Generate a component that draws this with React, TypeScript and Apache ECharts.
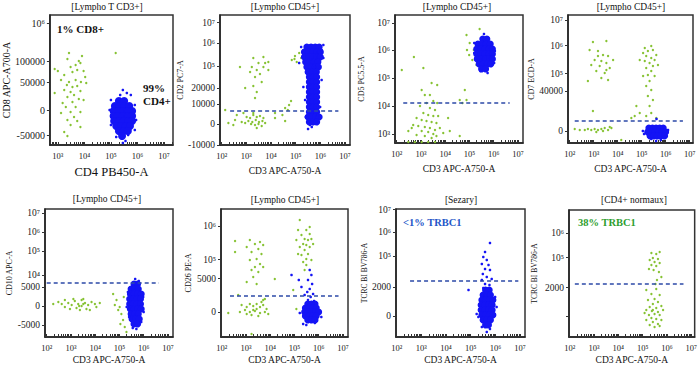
import React, { useEffect, useRef } from "react";
import * as echarts from "echarts";

// ---------- panel texts ----------
const titles = ["[Lympho T CD3+]", "[Lympho CD45+]", "[Lympho CD45+]", "[Lympho CD45+]", "[Lympho CD45+]", "[Lympho CD45+]", "[Sezary]", "[CD4+ normaux]"];
const xNames = ["CD4 PB450-A", "CD3 APC-A750-A", "CD3 APC-A750-A", "CD3 APC-A750-A", "CD3 APC-A750-A", "CD3 APC-A750-A", "CD3 APC-A750-A", "CD3 APC-A750-A"];
const yNames = ["CD8 APC-A700-A", "CD2 PC7-A", "CD5 PC5.5-A", "CD7 ECD-A", "CD10 APC-A", "CD26 PE-A", "TCRC BI BV786-A", "TCRC BI BV786-A"];

// ---------- axes (x: log10 of intensity, y: display channel) ----------
const xDecades = [[3, 4, 5, 6, 7], [2, 3, 4, 5, 6, 7], [2, 3, 4, 5, 6, 7], [2, 3, 4, 5, 6, 7], [2, 3, 4, 5, 6, 7], [2, 3, 4, 5, 6, 7], [2, 3, 4, 5, 6, 7], [2, 3, 4, 5, 6, 7]];
const xRanges = [[2.7, 7.34], [1.93, 7.2], [1.93, 7.21], [1.93, 7.14], [1.93, 7.21], [1.97, 7.21], [1.97, 7.2], [1.97, 7.14]];
const yMax = [130, 130, 128, 128, 128, 128, 128, 127];
const yTickPos = [
  [121.7, 84, 62.7, 35, 9.3],
  [122.3, 101.7, 79, 56.7, 41, 21, 0],
  [120, 92.7, 65, 36.7, 9],
  [122.7, 97.3, 69.3, 51.7, 11.7],
  [124, 105, 86, 61.7, 50, 30.7, 11.7],
  [110.7, 77.3, 58.3, 25],
  [127.3, 105, 80.7, 50, 21],
  [127.3, 104, 79.3, 49.3, 20.7],
];
const yTickLabels = [
  ["10⁶", "100000", "50000", "0", "-50000"],
  ["10⁷", "10⁶", "10⁵", "20000", "10000", "0", "-10000"],
  ["10⁷", "10⁶", "10⁵", "10⁴", "10³"],
  ["10⁷", "10⁶", "10⁵", "40000", "0"],
  ["10⁷", "10⁶", "10⁵", "10⁴", "5000", "0", "-5000"],
  ["10⁶", "10⁵", "5000", "0"],
  ["10⁷", "10⁶", "10⁵", "2000", "0"],
  ["10⁷", "10⁶", "10⁵", "2000", ""],
];

// ---------- gate thresholds ----------
const thresholdY = [null, 34, 40, 22, 54, 41, 56, 53];
const thresholdX = [null, [2.34, 6.73], [2.27, 6.66], [2.21, 6.72], [2.0, 6.63], [2.34, 6.82], [2.54, 6.93], [2.21, 6.68]];

// ---------- events ----------
const p1Green = [[3.42,92],[3.91,89],[3.36,86],[3.79,84],[2.88,76],[3.0,74],[3.48,78],[3.67,80],[3.85,82],[3.97,74],[3.24,70],[3.55,73],[3.73,75],[4.03,68],[3.12,65],[3.42,63],[3.67,65],[3.87,63],[4.07,62],[3.34,60],[3.55,58],[3.73,59],[2.88,52],[3.24,55],[3.48,53],[3.85,54],[3.61,50],[3.36,48],[3.79,46],[3.18,42],[3.55,43],[3.97,45],[3.3,38],[3.67,38],[3.48,33],[3.85,33],[3.12,32],[3.61,28],[3.36,25],[3.73,24],[3.48,20],[3.24,13],[3.85,18],[3.36,9],[5.18,92]];
const p1Core = [[5.3,44],[5.5,44],[5.15,39],[5.33,39],[5.51,39],[5.69,39],[5.1,34],[5.28,34],[5.46,34],[5.64,34],[5.8,34],[5.1,29],[5.28,29],[5.46,29],[5.64,29],[5.8,29],[5.12,24],[5.3,24],[5.48,24],[5.66,24],[5.8,24],[5.2,19],[5.38,19],[5.56,19],[5.72,19],[5.3,14],[5.48,14],[5.64,14],[5.42,9]];
const p1Spread = [[5.0,45],[4.95,35],[5.9,40],[5.95,25],[5.6,52],[5.45,55],[5.35,50],[5.75,50],[5.2,8],[5.55,4],[5.0,20],[5.9,15],[5.45,2],[5.05,28],[5.85,32],[5.65,10]];

const p2Green = [[2.74,78],[3.28,87],[3.69,88],[3.89,83],[3.49,82],[3.22,78],[3.69,78],[3.42,75],[3.89,75],[3.55,71],[3.76,82],[3.15,73],[3.35,68],[3.62,63],[3.28,59],[3.42,53],[3.35,47],[2.95,57],[2.14,35],[3.01,28],[3.15,27],[3.28,30],[3.42,28],[3.55,29],[3.69,27],[3.08,24],[3.24,23],[3.38,25],[3.51,23],[3.65,24],[3.76,22],[3.19,21],[3.35,20],[3.49,21],[3.62,19],[2.95,22],[2.81,23],[3.42,17],[3.28,32],[2.54,25],[2.47,20],[2.27,22],[2.61,30],[2.88,32],[4.16,27],[4.57,24],[4.57,37],[4.73,40],[4.81,44],[4.68,35],[4.46,30],[4.16,32],[4.84,85],[4.97,89],[5.14,92],[5.04,83],[5.22,87],[5.31,95],[5.41,91],[5.49,98],[4.95,86]];
const p2Core = [[5.45,98],[5.62,98],[5.79,98],[5.95,98],[5.35,93],[5.52,93],[5.69,93],[5.86,93],[6.0,93],[5.35,88],[5.52,88],[5.69,88],[5.86,88],[6.0,88],[5.4,83],[5.57,83],[5.74,83],[5.9,83],[5.45,78],[5.62,78],[5.79,78],[5.92,78],[5.5,73],[5.67,73],[5.84,73],[5.55,68],[5.7,68],[5.85,68],[5.55,63],[5.7,63],[5.85,63],[5.55,58],[5.7,58],[5.85,58],[5.55,53],[5.7,53],[5.85,53],[5.55,48],[5.7,48],[5.85,48],[5.55,43],[5.7,43],[5.85,43],[5.55,38],[5.7,38],[5.85,38],[5.55,33],[5.7,33],[5.85,33],[5.5,28],[5.65,28],[5.8,28],[5.95,28],[5.55,23],[5.7,23],[5.85,23]];
const p2Spread = [[5.22,98],[5.14,82],[6.12,100],[6.12,87],[5.31,58],[6.05,65],[5.38,45],[5.99,38],[5.58,20],[5.65,18],[5.89,30],[5.41,28],[5.78,78],[5.5,16],[6.05,95],[5.3,92]];

const p3Green = [[2.21,73],[3.1,75],[2.71,86],[3.44,60],[3.03,53],[3.16,48],[3.37,48],[3.67,58],[3.51,42],[3.23,40],[2.96,37],[3.37,35],[3.58,33],[3.1,30],[3.3,28],[3.51,27],[3.71,27],[2.82,25],[3.03,23],[3.23,22],[3.44,21],[3.64,20],[2.68,18],[2.89,17],[3.16,16],[3.37,15],[3.58,13],[3.78,15],[3.03,12],[3.3,11],[3.51,9],[2.82,8],[3.16,7],[3.44,5],[3.64,7],[2.62,15],[2.48,12],[4.12,25],[4.6,7],[4.19,12],[3.92,10],[4.6,43],[4.81,53],[4.88,43],[4.71,40],[3.67,40],[2.48,1],[2.75,1],[3.03,1],[3.3,1],[3.58,1],[4.88,108],[5.01,100],[5.18,93],[4.99,88],[5.12,83],[5.29,78],[5.42,114],[4.9,93]];
const p3Core = [[5.55,104],[5.72,104],[5.35,99],[5.52,99],[5.69,99],[5.86,99],[5.3,94],[5.47,94],[5.64,94],[5.81,94],[5.95,94],[5.3,89],[5.47,89],[5.64,89],[5.81,89],[5.95,89],[5.32,84],[5.49,84],[5.66,84],[5.83,84],[5.95,84],[5.4,79],[5.57,79],[5.74,79],[5.88,79],[5.5,74],[5.67,74]];
const p3Spread = [[5.2,100],[5.25,84],[6.05,92],[6.02,80],[5.6,109],[5.75,70],[5.45,72],[5.2,90]];

const p4Green = [[2.97,101],[3.53,102],[2.83,93],[3.18,92],[3.39,88],[3.6,87],[3.04,83],[3.32,82],[3.53,80],[2.9,78],[3.25,77],[3.67,75],[3.11,72],[3.46,70],[3.32,65],[3.6,63],[2.76,62],[3.18,87],[3.53,73],[3.81,83],[2.21,14],[2.42,13],[2.63,13],[2.76,14],[2.9,13],[3.04,14],[3.18,13],[3.32,14],[3.46,15],[3.6,13],[3.74,15],[3.11,11],[3.39,12],[3.67,16],[2.97,32],[4.15,3],[5.06,90],[5.26,92],[5.47,93],[5.61,88],[5.19,87],[5.4,85],[5.54,83],[5.13,82],[5.33,80],[5.47,77],[5.19,75],[5.4,72],[5.26,68],[5.54,67],[5.33,62],[5.19,57],[5.4,53],[5.26,47],[5.47,43],[5.33,37],[5.4,30],[5.19,27],[4.92,30],[4.71,27],[4.57,25],[4.78,37],[4.92,83],[5.68,78],[5.13,95],[5.4,97],[5.61,25],[5.06,67]];
const p4Core = [[5.3,15],[5.45,15],[5.6,15],[5.75,15],[5.9,15],[5.25,11],[5.4,11],[5.55,11],[5.7,11],[5.85,11],[6.0,11],[5.35,7],[5.5,7],[5.65,7],[5.8,7],[5.95,7]];
const p4Spread = [[5.05,12],[5.1,9],[6.1,13],[5.6,2],[5.8,3],[5.62,24],[6.05,7],[5.4,4]];

const p5Green = [[2.48,35],[2.62,33],[2.75,37],[2.89,34],[3.03,32],[3.16,36],[3.3,33],[3.44,31],[3.58,34],[3.71,32],[3.85,35],[3.99,33],[3.23,29],[3.44,37],[2.96,28],[3.64,28],[3.1,38],[3.37,27],[2.75,30],[4.05,30],[2.27,33],[4.19,34],[3.51,38],[3.78,27],[3.34,31],[3.51,33],[4.74,43],[4.88,37],[5.01,30],[5.08,23],[5.15,17],[5.22,10],[4.95,27],[4.81,32],[5.29,5],[5.04,13],[5.18,40]];
const p5Core = [[5.6,53],[5.75,53],[5.48,48],[5.63,48],[5.78,48],[5.45,43],[5.6,43],[5.75,43],[5.9,43],[5.42,38],[5.57,38],[5.72,38],[5.87,38],[5.42,33],[5.57,33],[5.72,33],[5.87,33],[5.45,28],[5.6,28],[5.75,28],[5.9,28],[5.48,23],[5.63,23],[5.78,23],[5.52,18],[5.67,18],[5.82,18],[5.6,13],[5.75,13]];
const p5Spread = [[5.65,58],[5.8,56],[5.35,45],[5.3,30],[5.98,40],[6.0,25],[5.7,8],[5.55,9],[5.9,15],[5.4,20]];

const p6Green = [[2.55,96],[3.16,97],[3.58,95],[3.71,92],[3.37,93],[3.03,90],[3.51,88],[3.23,85],[2.55,85],[3.64,83],[3.44,78],[3.16,77],[3.58,73],[3.37,70],[3.51,65],[3.3,60],[3.03,55],[3.44,53],[3.71,70],[3.23,67],[2.82,32],[3.03,30],[3.16,33],[3.3,31],[3.44,33],[3.58,30],[3.71,32],[3.85,28],[2.96,27],[3.16,25],[3.37,26],[3.58,24],[3.78,25],[3.92,23],[3.23,22],[3.51,21],[3.03,23],[3.64,35],[3.44,28],[3.3,27],[3.71,37],[2.75,25],[2.27,24],[2.68,42],[3.23,3],[4.19,58],[3.78,38],[5.15,107],[5.49,107],[5.63,103],[5.29,102],[5.42,98],[5.56,97],[5.7,98],[5.36,93],[5.49,92],[5.63,90],[5.22,90],[5.42,87],[5.56,83],[5.29,82],[5.49,78],[5.36,75],[5.49,72],[5.08,97],[5.77,93],[5.15,83],[5.42,67],[4.95,47],[5.08,28],[5.63,110],[5.7,77],[5.22,117]];
const p6Core = [[5.55,33],[5.7,33],[5.85,33],[5.45,29],[5.6,29],[5.75,29],[5.9,29],[5.42,25],[5.57,25],[5.72,25],[5.87,25],[6.0,25],[5.45,21],[5.6,21],[5.75,21],[5.9,21],[5.55,17],[5.7,17],[5.85,17]];
const p6Spread = [[5.63,67],[5.7,62],[5.56,57],[5.73,53],[5.63,48],[5.53,45],[5.77,43],[5.67,40],[5.56,37],[5.81,36],[4.88,62],[5.18,57],[5.29,50],[5.42,42],[5.36,13],[5.49,12],[5.84,14],[6.11,20],[5.22,24],[5.97,30]];

const p7Core = [[5.6,47],[5.75,47],[5.5,42],[5.65,42],[5.8,42],[5.45,37],[5.6,37],[5.75,37],[5.9,37],[5.42,32],[5.57,32],[5.72,32],[5.87,32],[5.42,27],[5.57,27],[5.72,27],[5.87,27],[5.45,22],[5.6,22],[5.75,22],[5.9,22],[5.5,17],[5.65,17],[5.8,17],[5.6,12],[5.72,12]];
const p7Spread = [[5.78,94],[5.58,85],[5.51,80],[5.65,77],[5.45,73],[5.72,72],[5.58,68],[5.78,67],[5.49,63],[5.65,60],[5.85,58],[5.45,57],[5.58,53],[5.76,52],[5.51,49],[4.91,47],[5.24,23],[5.31,20],[6.05,30],[5.99,40],[5.45,10],[5.78,8],[5.65,5],[5.58,42]];

const p8Green = [[5.36,84],[5.56,83],[5.7,85],[5.42,79],[5.63,78],[5.29,77],[5.49,75],[5.7,74],[5.36,72],[5.56,71],[5.26,68],[5.45,67],[5.67,65],[5.77,60],[5.59,57],[5.15,47],[5.56,48],[5.36,43],[5.7,42],[5.49,38],[5.22,37],[5.63,35],[5.42,33],[5.29,30],[5.56,29],[5.77,31],[5.15,27],[5.38,26],[5.63,25],[5.49,23],[5.26,22],[5.7,22],[5.36,19],[5.56,18],[5.15,17],[5.77,17],[5.42,15],[5.63,13],[5.29,12],[5.49,10],[5.7,11],[5.08,24],[5.84,27],[5.53,53],[5.42,27]];

const greenSets = [p1Green, p2Green, p3Green, p4Green, p5Green, p6Green, [], p8Green];
const coreSets = [p1Core, p2Core, p3Core, p4Core, p5Core, p6Core, p7Core, []];
const spreadSets = [p1Spread, p2Spread, p3Spread, p4Spread, p5Spread, p6Spread, p7Spread, []];

// ---------- layout ----------
const grids = [
  { left: 45, top: 15, width: 128, height: 130 },
  { left: 220, top: 15, width: 130, height: 130 },
  { left: 395, top: 15, width: 128, height: 128 },
  { left: 568, top: 15, width: 125, height: 128 },
  { left: 45, top: 209, width: 128, height: 128 },
  { left: 221, top: 209, width: 127, height: 128 },
  { left: 396, top: 209, width: 129, height: 128 },
  { left: 569, top: 210, width: 126, height: 127 },
];
const yNameGap = [35, 36, 30, 33, 30, 29, 28, 31];
const yNameSize = [10, 8, 8, 8, 8, 8, 7.5, 7.5];
const xNameSize = [12.5, 9.5, 9.5, 9.5, 9.5, 9.5, 9.5, 9.5];
const xNameGap = [20, 21, 21, 21, 18, 18, 18, 18];
const titlePos = [[107, 7], [285, 7], [457, 7], [631, 7], [107, 199], [285, 200], [461, 200], [634, 200]];

const FONT = '"Liberation Serif", "Times New Roman", "DejaVu Serif", serif';
const GREEN = "#86c232";
const BLUE = "#1414f5";
const DASH = "#2d4aa8";
const SUP: Record<string, string> = { "0": "⁰", "1": "¹", "2": "²", "3": "³", "4": "⁴", "5": "⁵", "6": "⁶", "7": "⁷", "8": "⁸", "9": "⁹" };
const pow10 = (n: number) => "10" + String(n).split("").map((c) => SUP[c] || c).join("");

function minorTicks(min: number, max: number) {
  const out: number[] = [];
  for (let d = 1; d <= 8; d++) {
    for (let k = 1; k < 10; k++) {
      const v = d + Math.log10(k);
      if (v >= min && v <= max) out.push(v);
    }
  }
  return out;
}

function buildOption() {
  const xAxis: any[] = [];
  const yAxis: any[] = [];
  const series: any[] = [];
  const graphic: any[] = [];
  grids.forEach((g, i) => {
    xAxis.push({
      type: "value",
      gridIndex: i,
      min: xRanges[i][0],
      max: xRanges[i][1],
      name: xNames[i],
      nameLocation: "middle",
      nameGap: xNameGap[i],
      nameTextStyle: { fontFamily: FONT, fontSize: xNameSize[i], color: "#111" },
      axisLine: { show: true, lineStyle: { color: "#222", width: 1.5 } },
      axisTick: { show: true, inside: true, length: 3, customValues: minorTicks(xRanges[i][0], xRanges[i][1]), lineStyle: { color: "#333", width: 1 } },
      axisLabel: {
        customValues: xDecades[i],
        formatter: (v: number) => pow10(Math.round(v)),
        fontFamily: FONT,
        fontSize: 8.5,
        color: "#222",
        margin: 6,
      },
      splitLine: { show: false },
    });
    const pos = yTickPos[i];
    const labs = yTickLabels[i];
    yAxis.push({
      type: "value",
      gridIndex: i,
      min: 0,
      max: yMax[i],
      name: yNames[i],
      nameLocation: "middle",
      nameGap: yNameGap[i],
      nameTextStyle: { fontFamily: FONT, fontSize: yNameSize[i], color: "#111" },
      axisLine: { show: true, lineStyle: { color: "#222", width: 1.5 } },
      axisTick: { show: true, length: 3, customValues: pos, lineStyle: { color: "#333" } },
      axisLabel: {
        customValues: pos,
        formatter: (v: number) => {
          const k = pos.findIndex((p) => Math.abs(p - v) < 0.01);
          return k >= 0 ? labs[k] : "";
        },
        fontFamily: FONT,
        fontSize: i === 0 ? 10 : 9.5,
        color: "#222",
        margin: 5,
      },
      splitLine: { show: false },
    });
    if (greenSets[i].length) {
      series.push({ type: "scatter", xAxisIndex: i, yAxisIndex: i, data: greenSets[i], symbol: "circle", symbolSize: 2.4, itemStyle: { color: GREEN, opacity: 1 }, silent: true, z: 2 });
    }
    if (coreSets[i].length) {
      series.push({ type: "scatter", xAxisIndex: i, yAxisIndex: i, data: coreSets[i], symbol: "circle", symbolSize: i === 0 ? 8 : 7, itemStyle: { color: BLUE, opacity: 1, borderWidth: 0 }, silent: true, z: 3 });
    }
    if (spreadSets[i].length) {
      series.push({ type: "scatter", xAxisIndex: i, yAxisIndex: i, data: spreadSets[i], symbol: "circle", symbolSize: 2.6, itemStyle: { color: BLUE, opacity: 1 }, silent: true, z: 3 });
    }
    const ty = thresholdY[i];
    const tx = thresholdX[i];
    if (ty !== null && tx) {
      series.push({
        type: "line",
        xAxisIndex: i,
        yAxisIndex: i,
        data: [[tx[0], ty], [tx[1], ty]],
        showSymbol: false,
        symbol: "none",
        lineStyle: { color: DASH, width: 1.5, type: [4, 3] },
        silent: true,
        z: 5,
      });
    }
    graphic.push({
      type: "text",
      x: titlePos[i][0],
      y: titlePos[i][1],
      style: { text: titles[i], fontFamily: FONT, fontSize: 9.5, fill: "#111", align: "center", verticalAlign: "middle" },
    });
  });
  graphic.push(
    { type: "text", x: 57, y: 29, style: { text: "1% CD8+", fontFamily: FONT, fontSize: 11, fontWeight: "bold", fill: "#111", align: "left", verticalAlign: "middle" } },
    { type: "text", x: 143, y: 88, style: { text: "99%", fontFamily: FONT, fontSize: 11, fontWeight: "bold", fill: "#111", align: "left", verticalAlign: "middle" } },
    { type: "text", x: 143, y: 101, style: { text: "CD4+", fontFamily: FONT, fontSize: 11, fontWeight: "bold", fill: "#111", align: "left", verticalAlign: "middle" } },
    { type: "text", x: 403, y: 222, style: { text: "<1% TRBC1", fontFamily: FONT, fontSize: 10.5, fontWeight: "bold", fill: "#2356c8", align: "left", verticalAlign: "middle" } },
    { type: "text", x: 578, y: 222, style: { text: "38% TRBC1", fontFamily: FONT, fontSize: 10.5, fontWeight: "bold", fill: "#2e9e2e", align: "left", verticalAlign: "middle" } }
  );
  return {
    animation: false,
    backgroundColor: "#ffffff",
    grid: grids.map((g) => ({ ...g, show: true, borderColor: "#333", borderWidth: 1.5, backgroundColor: "transparent", containLabel: false })),
    xAxis,
    yAxis,
    series,
    graphic,
  };
}

export default function App() {
  const ref = useRef<HTMLDivElement>(null);
  useEffect(() => {
    if (!ref.current) return;
    const chart = echarts.init(ref.current, null, { renderer: "svg" });
    chart.setOption(buildOption() as any);
    return () => chart.dispose();
  }, []);
  return <div ref={ref} style={{ position: "fixed", left: 0, top: 0, width: 700, height: 367, background: "#fff" }} />;
}
